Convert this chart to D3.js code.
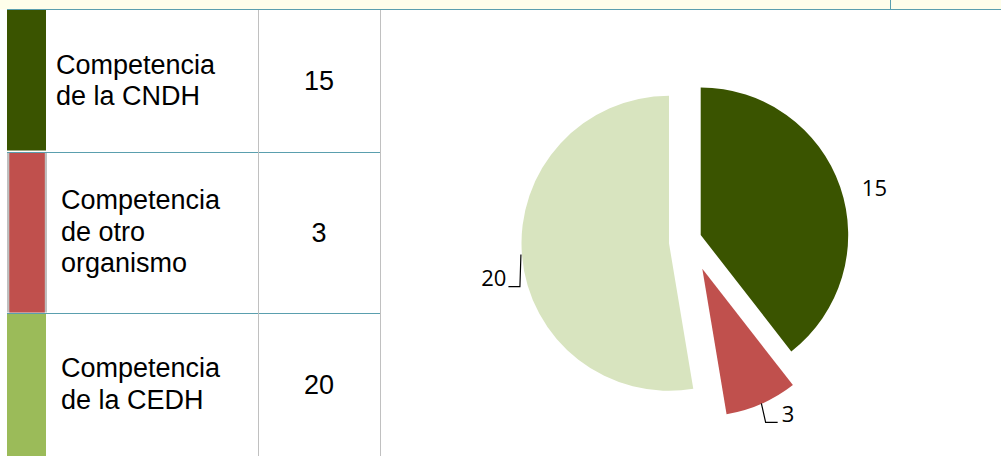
<!DOCTYPE html>
<html>
<head>
<meta charset="utf-8">
<script src="https://cdn.jsdelivr.net/npm/d3@7"></script>
<style>
  html, body { margin: 0; padding: 0; background: #ffffff; }
  svg { display: block; }
</style>
</head>
<body>
<svg id="chart" width="1001" height="456"></svg>
<script>
// ---- data ----
const categories = ["Competencia de la CNDH", "Competencia de otro organismo", "Competencia de la CEDH"];
const categoryLines = [["Competencia", "de la CNDH"], ["Competencia", "de otro", "organismo"], ["Competencia", "de la CEDH"]];
const values = [15, 3, 20];

// ---- styles / layout ----
const swatchColors = ["#3a5400", "#c0504d", "#9bbb59"];
const pieColors = ["#3a5400", "#c0504d", "#d8e4bf"];
const teal = "#5a9fae";
const grey = "#c0c0c0";
const W = 1001, H = 456;
const rowEdges = [10, 152, 313, 456];
const textX = [56, 61, 61];
const colSwatch = [7, 46];
const colBorders = [258, 380];
const numX = 319;
const lineH = 31.6;
const tableFont = "'Liberation Sans', Arial, sans-serif";
const tableSize = 27;

const pieCenter = [669, 243.3];
const radius = 147.5;
// explode offsets for each slice (translation of the slice)
const explode = [[31.7, -8.3], [33.3, 25.4], [0, 0]];
const labelFont = "'Open Sans', 'Liberation Sans', sans-serif";
const labelSize = 22;

const svg = d3.select("#chart");

// top strip
svg.append("rect").attr("x", 0).attr("y", 0).attr("width", W).attr("height", 9.5).attr("fill", "#fefeea");
svg.append("line").attr("x1", 7).attr("x2", W).attr("y1", 9.5).attr("y2", 9.5).attr("stroke", teal).attr("stroke-width", 1);
svg.append("line").attr("x1", 890.5).attr("x2", 890.5).attr("y1", 0).attr("y2", 9.5).attr("stroke", teal).attr("stroke-width", 1);

// table rows
const rows = svg.append("g");
categories.forEach((c, i) => {
  const y0 = rowEdges[i] + (i === 0 ? 0 : 1), y1 = rowEdges[i + 1];
  const g = rows.append("g");
  if (i === 1) {
    g.append("rect").attr("x", colSwatch[0]).attr("y", y0).attr("width", colSwatch[1] - colSwatch[0] + 1).attr("height", y1 - y0 - 0.5).attr("fill", "#bfbfbf");
    g.append("rect").attr("x", colSwatch[0] + 2.3).attr("y", y0).attr("width", colSwatch[1] - colSwatch[0] - 3.5).attr("height", y1 - y0 - 0.5).attr("fill", swatchColors[i]);
  } else {
    g.append("rect").attr("x", colSwatch[0]).attr("y", y0).attr("width", colSwatch[1] - colSwatch[0]).attr("height", y1 - y0 - (i === 0 ? 1.5 : 0)).attr("fill", swatchColors[i]);
  }
  const center = (rowEdges[i] + rowEdges[i + 1]) / 2;
  const lines = categoryLines[i];
  const first = center - (lines.length - 1) * lineH / 2 + 8.3;
  const t = g.append("text").attr("font-family", tableFont).attr("font-size", tableSize).attr("fill", "#000");
  lines.forEach((l, k) => {
    t.append("tspan").attr("x", textX[i]).attr("y", first + k * lineH).text(l);
  });
  g.append("text").attr("x", numX).attr("y", center + 9).attr("text-anchor", "middle")
    .attr("font-family", tableFont).attr("font-size", tableSize).attr("fill", "#000").text(values[i]);
});
// row separators
rowEdges.slice(1, 3).forEach(y => {
  svg.append("line").attr("x1", colSwatch[0]).attr("x2", colBorders[1]).attr("y1", y + 0.5).attr("y2", y + 0.5).attr("stroke", teal).attr("stroke-width", 1);
});
// column separators
colBorders.forEach(x => {
  svg.append("line").attr("x1", x + 0.5).attr("x2", x + 0.5).attr("y1", 10).attr("y2", H).attr("stroke", grey).attr("stroke-width", 1);
});

// pie
const pie = d3.pie().sort(null).startAngle(0).endAngle(2 * Math.PI);
const arcs = pie(values);
const arc = d3.arc().innerRadius(0).outerRadius(radius);
const pg = svg.append("g").attr("transform", `translate(${pieCenter[0]},${pieCenter[1]})`);
arcs.forEach((a, i) => {
  pg.append("path").attr("d", arc(a)).attr("fill", pieColors[i])
    .attr("transform", `translate(${explode[i][0]},${explode[i][1]})`);
});

// labels
function polar(i, angDeg, r) {
  const a = angDeg * Math.PI / 180;
  return [pieCenter[0] + explode[i][0] + r * Math.sin(a), pieCenter[1] + explode[i][1] - r * Math.cos(a)];
}
const mid = a => (a.startAngle + a.endAngle) / 2 * 180 / Math.PI;
const lab = svg.append("g").attr("font-family", labelFont).attr("font-size", labelSize).attr("fill", "#000");

// slice 0 (15): no leader
{
  const p = polar(0, mid(arcs[0]) + 3.8, 180);
  lab.append("text").attr("x", p[0]).attr("y", p[1] + 8).attr("text-anchor", "middle").text(values[0]);
}
// slice 1 (3): leader from arc
{
  const s = polar(1, mid(arcs[1]), radius - 0.5);
  const ly = s[1] + 19;
  const elbow = [s[0] + 4.3, ly];
  const end = [elbow[0] + 12, ly];
  lab.append("path").attr("d", d3.line()([s, elbow, end])).attr("fill", "none").attr("stroke", "#000").attr("stroke-width", 1.2);
  lab.append("text").attr("x", end[0] + 4).attr("y", ly).text(values[1]);
}
// slice 2 (20): leader from arc
{
  const s = polar(2, mid(arcs[2]) + 0.4, radius + 1);
  const ly = s[1] + 32;
  const elbow = [s[0] - 1, ly];
  const end = [elbow[0] - 11.5, ly];
  lab.append("path").attr("d", d3.line()([s, elbow, end])).attr("fill", "none").attr("stroke", "#000").attr("stroke-width", 1.2);
  lab.append("text").attr("x", end[0] - 2).attr("y", ly - 1).attr("text-anchor", "end").text(values[2]);
}
</script>
</body>
</html>
